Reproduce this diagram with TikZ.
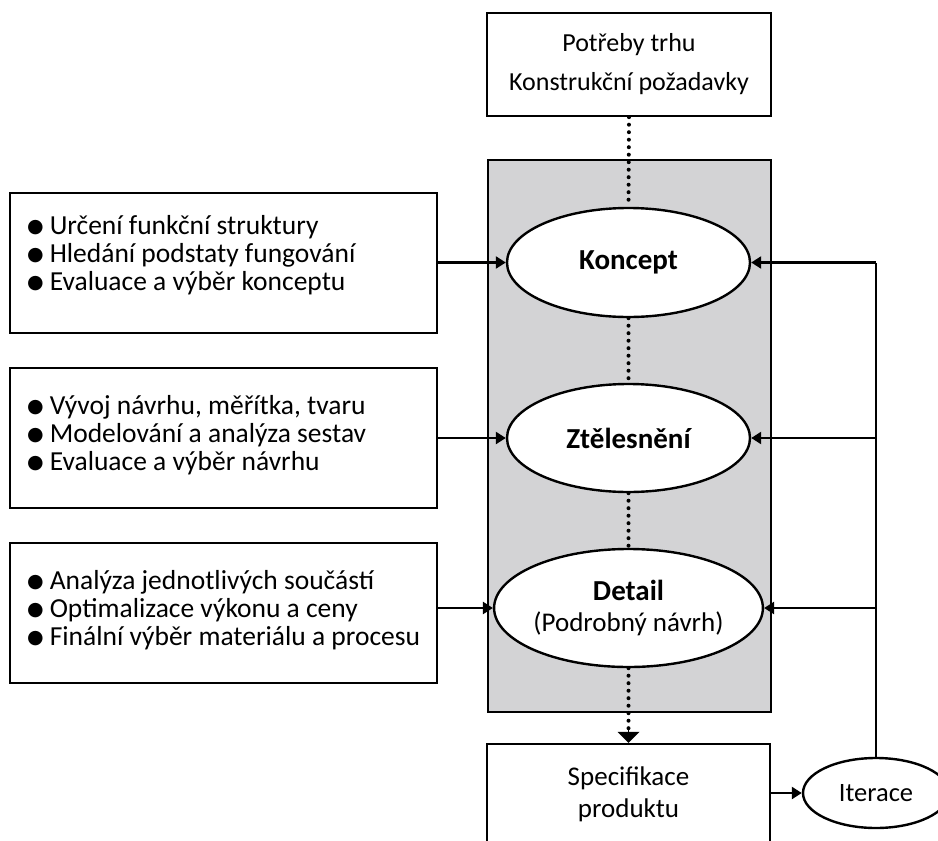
\documentclass[tikz,border=0pt]{standalone}
\usepackage{fontspec}
\setmainfont{Carlito}
\newfontfamily\symfont{DejaVu Sans}
\usetikzlibrary{shapes.geometric,arrows.meta}
\newcommand{\bul}{\raisebox{1.5pt}{\symfont\fontsize{19pt}{19pt}\selectfont ●}\hspace{6pt}}
\begin{document}
\begin{tikzpicture}[x=1pt,y=-1pt,
  every node/.style={font=\fontsize{27pt}{39pt}\selectfont},
  box/.style={draw, line width=2.4pt, inner sep=0pt, align=center},
  greyrect/.style={draw, line width=2.4pt, fill={rgb,255:red,211;green,211;blue,213}, inner sep=0pt},
  ell/.style={draw, ellipse, line width=2.4pt, fill=white, inner sep=0pt, align=center},
  listtext/.style={anchor=west, align=left, inner sep=0pt, font=\fontsize{27.5pt}{28pt}\selectfont},
  arr/.style={line width=2.4pt, -{Triangle[length=10pt,width=12pt]}},
  plain/.style={line width=2.4pt},
  dotline/.style={line width=4pt, dash pattern=on 0pt off 7.5pt, line cap=round},
]
\useasboundingbox (0,0) rectangle (938,841);
\clip (0,0) rectangle (938,841);

% top box
\node[box, minimum width=284pt, minimum height=103pt, font=\fontsize{26pt}{39pt}\selectfont] (top) at (629,64.5) {Potřeby trhu\\Konstrukční požadavky};

% grey panel
\node[greyrect, minimum width=283pt, minimum height=552pt] (grey) at (629.5,436) {};

% ellipses
\node[ell, minimum width=243pt, minimum height=109pt, font=\fontsize{29pt}{31pt}\selectfont\bfseries] (k) at (628.5,262.5) {Koncept};
\node[ell, minimum width=243pt, minimum height=108pt, font=\fontsize{29pt}{31pt}\selectfont\bfseries] (z) at (628.5,438) {Ztělesnění};
\node[ell, minimum width=244pt, minimum height=118pt, font=\fontsize{27pt}{31pt}\selectfont] (d) at (628.5,608) {{\fontsize{29pt}{31pt}\selectfont\bfseries Detail}\\(Podrobný návrh)};

% left boxes
\node[box, minimum width=427pt, minimum height=140pt] (b1) at (223.5,263) {};
\node[box, minimum width=427pt, minimum height=140pt] (b2) at (223.5,438) {};
\node[box, minimum width=427pt, minimum height=140pt] (b3) at (223.5,613) {};

\node[listtext] (t1) at (27,255) {\bul Určení funkční struktury\\\bul Hledání podstaty fungování\\\bul Evaluace a výběr konceptu};
\node[listtext] (t2) at (27,435) {\bul Vývoj návrhu, měřítka, tvaru\\\bul Modelování a analýza sestav\\\bul Evaluace a výběr návrhu};
\node[listtext] (t3) at (27,610) {\bul Analýza jednotlivých součástí\\\bul Optimalizace výkonu a ceny\\\bul Finální výběr materiálu a procesu};

% bottom
\node[box, minimum width=283pt, minimum height=100pt, font=\fontsize{27pt}{32pt}\selectfont] (spec) at (628.5,794) {Specifikace\\produktu};
\node[ell, minimum width=146pt, minimum height=70pt, font=\fontsize{26.5pt}{30pt}\selectfont] (it) at (876,793) {Iterace};

% coordinates on right return line
\coordinate (r1) at (876,262.5);
\coordinate (r2) at (876,438);
\coordinate (r3) at (876,608);

% dotted connectors
\draw[dotline] (top.south) -- (k.north);
\draw[dotline] (k.south) -- (z.north);
\draw[dotline] (z.south) -- (d.north);
\draw[dotline, shorten >=12pt] (d.south) -- (spec.north);
\draw[line width=0pt, -{Triangle[length=11pt,width=22pt]}] ([yshift=13pt]spec.north) -- (spec.north);

% left arrows
\draw[arr] (b1.east |- k.west) -- (k.west);
\draw[arr] (b2.east |- z.west) -- (z.west);
\draw[arr] (b3.east |- d.west) -- (d.west);

% right feedback
\draw[plain] (it.north) -- (r1);
\draw[arr] (r1) -- (k.east);
\draw[arr] (r2) -- (z.east);
\draw[arr] (r3) -- (d.east);
\draw[arr] (spec.east |- it.west) -- (it.west);
\end{tikzpicture}
\end{document}
